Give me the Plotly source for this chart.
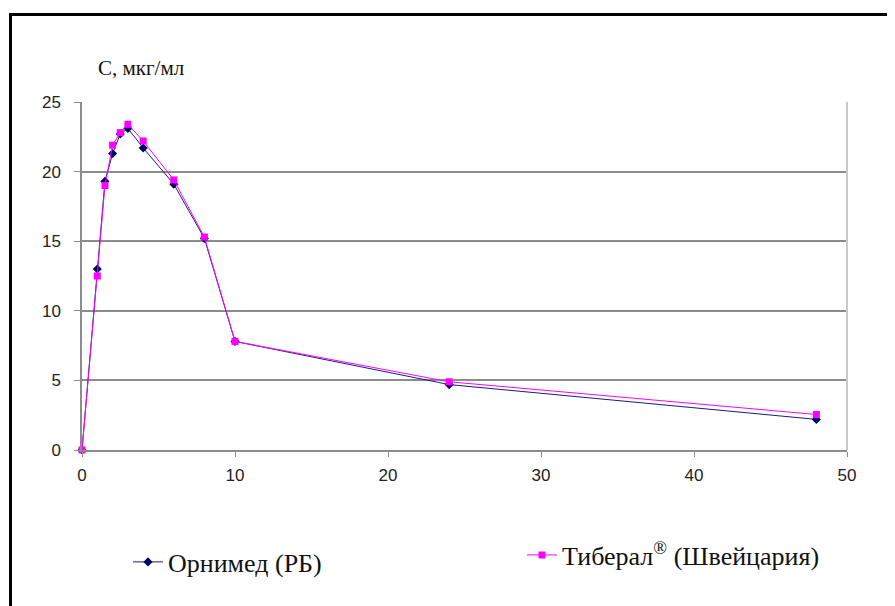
import plotly.graph_objects as go

time_h = [0, 1, 1.5, 2, 2.5, 3, 4, 6, 8, 10, 24, 48]
ornimed = [0, 13.0, 19.3, 21.3, 22.7, 23.1, 21.7, 19.1, 15.2, 7.8, 4.7, 2.2]
tiberal = [0, 12.5, 19.0, 21.9, 22.8, 23.4, 22.2, 19.4, 15.3, 7.8, 4.9, 2.55]
x_ticks = [0, 10, 20, 30, 40, 50]
y_ticks = [0, 5, 10, 15, 20, 25]
name1 = "Орнимед (РБ)"
name2 = "Тиберал<sup>®</sup> (Швейцария)"
y_title = "С, мкг/мл"

OFF = 8  # page body margin
W, H = 895 - OFF, 606 - OFF
# plot area in screen coords: x 82..847, y 102..450
L, T = 82 - OFF, 102 - OFF
R = W - (847 - OFF)
B = H - (450 - OFF)
pw, ph = W - L - R, H - T - B

def px(xs):
    return (xs - OFF - L) / pw

def py(ys):
    return (H - B - (ys - OFF)) / ph

serif = "Liberation Serif, Times New Roman, serif"

fig = go.Figure()
fig.add_trace(go.Scatter(
    x=time_h, y=ornimed, name=name1, mode="lines+markers",
    line=dict(color="#1a1a80", width=1),
    marker=dict(symbol="diamond", size=7, color="#000066"),
    cliponaxis=False, legend="legend", showlegend=True))
fig.add_trace(go.Scatter(
    x=time_h, y=tiberal, name=name2, mode="lines+markers",
    line=dict(color="#ff00ff", width=1),
    marker=dict(symbol="square", size=7, color="#ff00ff"),
    cliponaxis=False, legend="legend2", showlegend=True))

fig.update_layout(
    width=W, height=H, showlegend=True,
    margin=dict(l=L, r=R, t=T, b=B),
    paper_bgcolor="white", plot_bgcolor="white",
    font=dict(family="Liberation Sans, Arial", size=17, color="#222"),
    xaxis=dict(range=[0, 50], tickvals=x_ticks, showgrid=False,
               showline=True, linecolor="#8c8c8c", linewidth=1.5,
               ticks="outside", ticklen=5, tickcolor="#8c8c8c",
               ticklabelstandoff=4,
               zeroline=False, fixedrange=True),
    yaxis=dict(range=[0, 25], tickvals=y_ticks, showgrid=True,
               gridcolor="#8c8c8c", gridwidth=1.5,
               showline=True, linecolor="#8c8c8c", linewidth=1.5,
               ticks="outside", ticklen=6, tickcolor="#8c8c8c",
               ticklabelstandoff=10,
               zeroline=False, fixedrange=True),
    legend=dict(x=px(128), y=py(562), xanchor="left", yanchor="middle",
                font=dict(family=serif, size=26, color="#111"),
                bgcolor="rgba(0,0,0,0)"),
    legend2=dict(x=px(522), y=py(555), xanchor="left", yanchor="middle",
                 font=dict(family=serif, size=26, color="#111"),
                 bgcolor="rgba(0,0,0,0)"),
    annotations=[dict(text=y_title, xref="paper", yref="paper",
                      x=px(96), y=py(68), xanchor="left", yanchor="middle",
                      showarrow=False,
                      font=dict(family=serif, size=21, color="#111"))],
    shapes=[
        dict(type="line", xref="paper", yref="paper", x0=1, x1=1, y0=0, y1=1,
             line=dict(color="#c8c8c8", width=2)),
        dict(type="rect", xref="paper", yref="paper",
             x0=px(10.5), x1=px(905), y0=py(14.5), y1=py(615),
             line=dict(color="black", width=3), fillcolor="rgba(0,0,0,0)", layer="below"),
    ],
)

fig.write_html("out.html")
